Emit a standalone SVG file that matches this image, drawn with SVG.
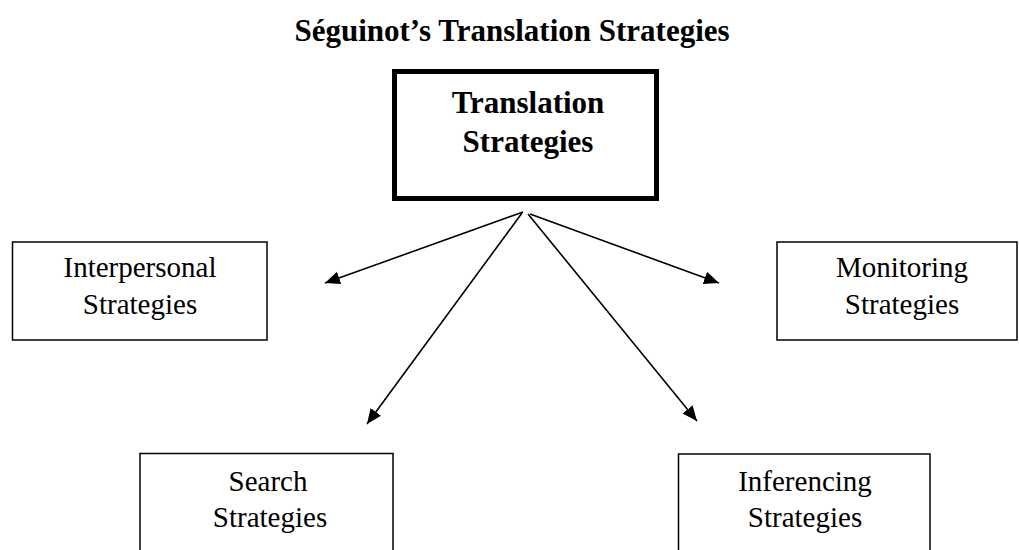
<svg xmlns="http://www.w3.org/2000/svg" width="1019" height="550" viewBox="0 0 1019 550">
  <style>
    .box { fill: #ffffff; stroke: #000000; stroke-width: 1.5; }
    .main { fill: #ffffff; stroke: #000000; stroke-width: 5; }
    .lbl { font-family: "Liberation Serif", "Times New Roman", serif; font-size: 29px; fill: #000000; text-anchor: middle; }
    .bold { font-family: "Liberation Serif", "Times New Roman", serif; font-size: 31px; font-weight: bold; fill: #000000; text-anchor: middle; }
    .edge { fill: none; stroke: #000000; stroke-width: 1.6; }
  </style>
  <defs>
    <marker id="arrow" markerUnits="userSpaceOnUse" markerWidth="16" markerHeight="14" refX="15" refY="6.5" orient="auto">
      <path d="M0,0 L15,6.5 L0,13 Z" fill="#000000"/>
    </marker>
  </defs>
  <rect width="1019" height="550" fill="#ffffff"/>

  <text class="bold" x="512" y="41">Séguinot’s Translation Strategies</text>

  <g id="translation-strategies">
    <rect class="main" x="394.5" y="71.5" width="262" height="127"/>
    <text class="bold" x="528" y="113">Translation</text>
    <text class="bold" x="528" y="152">Strategies</text>
  </g>

  <g id="interpersonal">
    <rect class="box" x="12.5" y="242" width="254.5" height="98"/>
    <text class="lbl" x="140" y="277">Interpersonal</text>
    <text class="lbl" x="140" y="314">Strategies</text>
  </g>

  <g id="monitoring">
    <rect class="box" x="777" y="242" width="240" height="98"/>
    <text class="lbl" x="902" y="277">Monitoring</text>
    <text class="lbl" x="902" y="314">Strategies</text>
  </g>

  <g id="search">
    <rect class="box" x="140" y="453.5" width="253" height="120"/>
    <text class="lbl" x="268" y="491">Search</text>
    <text class="lbl" x="270" y="527">Strategies</text>
  </g>

  <g id="inferencing">
    <rect class="box" x="678.5" y="454" width="251.5" height="120"/>
    <text class="lbl" x="805" y="491">Inferencing</text>
    <text class="lbl" x="805" y="527">Strategies</text>
  </g>

  <g id="connectors">
    <line class="edge" x1="523" y1="212" x2="325" y2="283" marker-end="url(#arrow)"/>
    <line class="edge" x1="522" y1="213" x2="367" y2="424" marker-end="url(#arrow)"/>
    <line class="edge" x1="528" y1="214" x2="697" y2="421" marker-end="url(#arrow)"/>
    <line class="edge" x1="530" y1="214" x2="719" y2="283" marker-end="url(#arrow)"/>
  </g>
</svg>
